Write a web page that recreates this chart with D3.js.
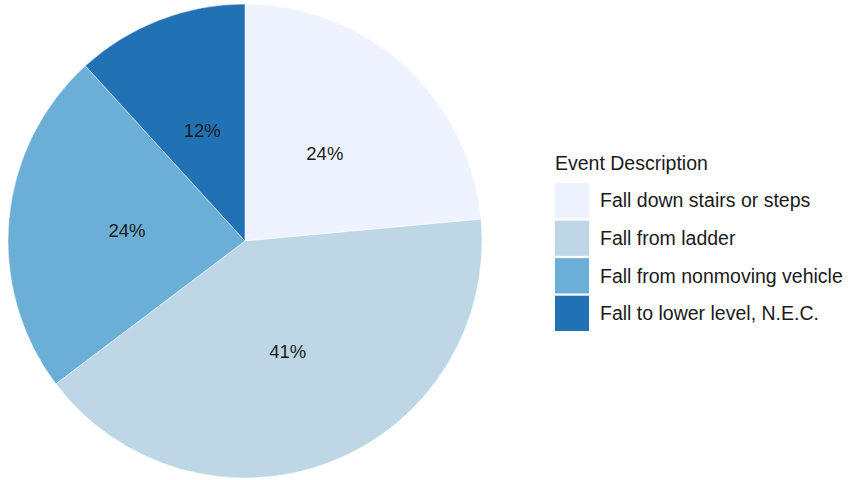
<!DOCTYPE html>
<html><head><meta charset="utf-8">
<script src="https://cdn.jsdelivr.net/npm/d3@7"></script>
<style>body{margin:0;background:#fff;} svg{display:block;font-family:"Liberation Sans",Arial,sans-serif;}</style>
</head><body>
<svg id="c" width="848" height="480"></svg>
<script>
const categories = ["Fall down stairs or steps","Fall from ladder","Fall from nonmoving vehicle","Fall to lower level, N.E.C."];
const counts = [4, 7, 4, 2];
const labels = ["24%","41%","24%","12%"];
const colors = ["#eff3ff","#bdd7e7","#6baed6","#2171b5"];
const legendTitle = "Event Description";

const svg = d3.select("#c");
const cx = 245, cy = 241, R = 237;
const color = d3.scaleOrdinal().domain(categories).range(colors);
const pie = d3.pie().sort(null).value(d => d.v);
const data = categories.map((c,i)=>({c, v: counts[i], l: labels[i]}));
const arcs = pie(data);
const arc = d3.arc().innerRadius(0).outerRadius(R);
const labelArc = d3.arc().innerRadius(R/2).outerRadius(R/2);
const g = svg.append("g").attr("transform",`translate(${cx},${cy})`);
g.selectAll("path").data(arcs).join("path")
  .attr("d", arc).attr("fill", d => color(d.data.c))
  .attr("stroke","#ffffff").attr("stroke-width",0.5);
g.selectAll("text").data(arcs).join("text")
  .attr("transform", d => { const [x,y]=labelArc.centroid(d); return `translate(${x},${y})`; })
  .attr("text-anchor","middle").attr("dy","0.35em")
  .attr("font-size",18.5).attr("fill","#1a1a1a")
  .text(d => d.data.l);

const lg = svg.append("g");
lg.append("text").attr("x",555).attr("y",170).attr("font-size",19.5).attr("fill","#1a1a1a").text(legendTitle);
const ly = d3.scaleBand().domain(categories).range([183,331]).paddingInner(0.06);
lg.selectAll("rect").data(categories).join("rect")
  .attr("x",555).attr("y", d=>ly(d)).attr("width",34).attr("height",ly.bandwidth())
  .attr("fill", d=>color(d));
lg.selectAll("text.l").data(categories).join("text").attr("class","l")
  .attr("x",600).attr("y", d=>ly(d)+ly.bandwidth()/2).attr("dy","0.35em")
  .attr("font-size",19.5).attr("fill","#1a1a1a").text(d=>d);
</script>
</body></html>
